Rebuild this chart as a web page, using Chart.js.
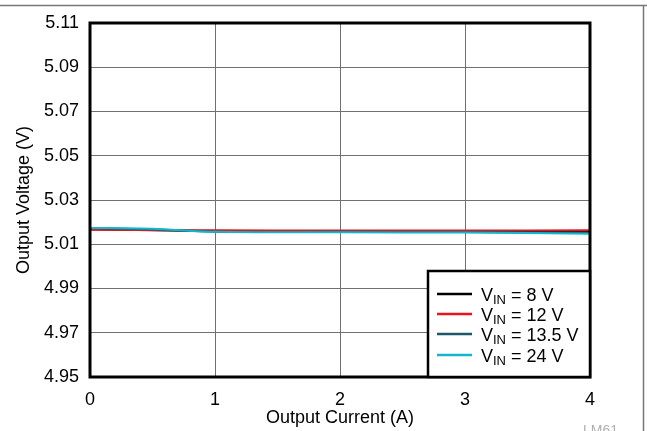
<!DOCTYPE html>
<html>
<head>
<meta charset="utf-8">
<script src="https://cdn.jsdelivr.net/npm/chart.js@4"></script>
<style>
html,body{margin:0;padding:0;background:#fff;}
#wrap{width:647px;height:431px;position:relative;}
</style>
</head>
<body>
<div id="wrap"><canvas id="c" width="647" height="431"></canvas></div>
<script>
const currents = [0, 0.5, 1, 2, 3, 4];
const vin8 = [5.0168, 5.0163, 5.0160, 5.0159, 5.0158, 5.0157];
const vin12 = [5.0166, 5.0164, 5.0163, 5.0162, 5.0162, 5.0163];
const vin13_5 = [5.0173, 5.0168, 5.0157, 5.0156, 5.0155, 5.0152];
const vin24 = [5.0174, 5.0170, 5.0156, 5.0154, 5.0153, 5.0148];
const seriesNames = ['8 V', '12 V', '13.5 V', '24 V'];
const yTicks = [4.95, 4.97, 4.99, 5.01, 5.03, 5.05, 5.07, 5.09, 5.11];
const xTicks = [0, 1, 2, 3, 4];

const colors = ['#000000', '#e8141c', '#1d5868', '#12b7cc'];
const allSeries = [vin8, vin12, vin13_5, vin24];
const FONT = '"Liberation Sans", Arial, Helvetica, sans-serif';

const datasets = allSeries.map((vals, i) => ({
  label: 'VIN = ' + seriesNames[i],
  data: currents.map((x, k) => ({x: x, y: vals[k]})),
  borderColor: colors[i],
  backgroundColor: colors[i],
  borderWidth: 2,
  pointRadius: 0,
  tension: 0.3,
  fill: false,
  order: 4 - i
}));

const framePlugin = {
  id: 'frame',
  afterDraw(chart) {
    const ctx = chart.ctx;
    const a = chart.chartArea;
    ctx.save();
    // plot border
    ctx.strokeStyle = '#000';
    ctx.lineWidth = 3;
    ctx.strokeRect(a.left, a.top, a.right - a.left, a.bottom - a.top);
    // figure frame lines
    ctx.strokeStyle = '#777';
    ctx.lineWidth = 1.5;
    ctx.beginPath();
    ctx.moveTo(0, 5.5); ctx.lineTo(647, 5.5);
    ctx.moveTo(643.5, 5.5); ctx.lineTo(643.5, 431);
    ctx.stroke();
    // legend box
    const lx = 428, ly = 271, lw = a.right - lx, lh = a.bottom - ly;
    ctx.fillStyle = '#fff';
    ctx.fillRect(lx, ly, lw, lh);
    ctx.strokeStyle = '#000';
    ctx.lineWidth = 2.5;
    ctx.strokeRect(lx, ly, lw, lh);
    const rows = [294, 314, 334, 355];
    rows.forEach((ry, i) => {
      ctx.strokeStyle = colors[i];
      ctx.lineWidth = 2.5;
      ctx.beginPath();
      ctx.moveTo(437, ry); ctx.lineTo(472, ry);
      ctx.stroke();
      ctx.fillStyle = '#000';
      ctx.textBaseline = 'alphabetic';
      ctx.textAlign = 'left';
      let x = 481;
      ctx.font = '18px ' + FONT;
      ctx.fillText('V', x, ry + 6.5);
      x += ctx.measureText('V').width;
      ctx.font = '13px ' + FONT;
      ctx.fillText('IN', x, ry + 10);
      x += ctx.measureText('IN').width;
      ctx.font = '18px ' + FONT;
      ctx.fillText(' = ' + seriesNames[i], x, ry + 6.5);
    });
    // footer code
    ctx.fillStyle = '#b0b0b0';
    ctx.font = '14px ' + FONT;
    ctx.textAlign = 'left';
    ctx.fillText('LM61', 583, 435);
    ctx.restore();
  }
};

new Chart(document.getElementById('c'), {
  type: 'line',
  data: { datasets: datasets },
  options: {
    responsive: false,
    animation: false,
    devicePixelRatio: 1,
    layout: { padding: { left: 0, right: 57, top: 23, bottom: 0 } },
    plugins: { legend: { display: false }, tooltip: { enabled: false } },
    scales: {
      x: {
        type: 'linear',
        min: 0, max: 4,
        afterBuildTicks(s) { s.ticks = xTicks.map(v => ({value: v})); },
        afterFit(s) { s.height = 54; },
        grid: { color: '#707070', lineWidth: 1, drawTicks: false },
        border: { display: false },
        ticks: { color: '#000', font: { family: FONT, size: 18 }, padding: 12, maxRotation: 0 },
        title: { display: true, text: 'Output Current (A)', color: '#000', font: { family: FONT, size: 18 }, padding: { top: 0, bottom: 2 } }
      },
      y: {
        type: 'linear',
        min: 4.95, max: 5.11,
        afterBuildTicks(s) { s.ticks = yTicks.map(v => ({value: v})); },
        afterFit(s) { s.width = 90; },
        grid: { color: '#707070', lineWidth: 1, drawTicks: false },
        border: { display: false },
        ticks: { color: '#000', font: { family: FONT, size: 18 }, padding: 11, callback: v => v.toFixed(2) },
        title: { display: true, text: 'Output Voltage (V)', color: '#000', font: { family: FONT, size: 18 }, padding: { top: 13, bottom: 0 } }
      }
    }
  },
  plugins: [framePlugin]
});
</script>
</body>
</html>
